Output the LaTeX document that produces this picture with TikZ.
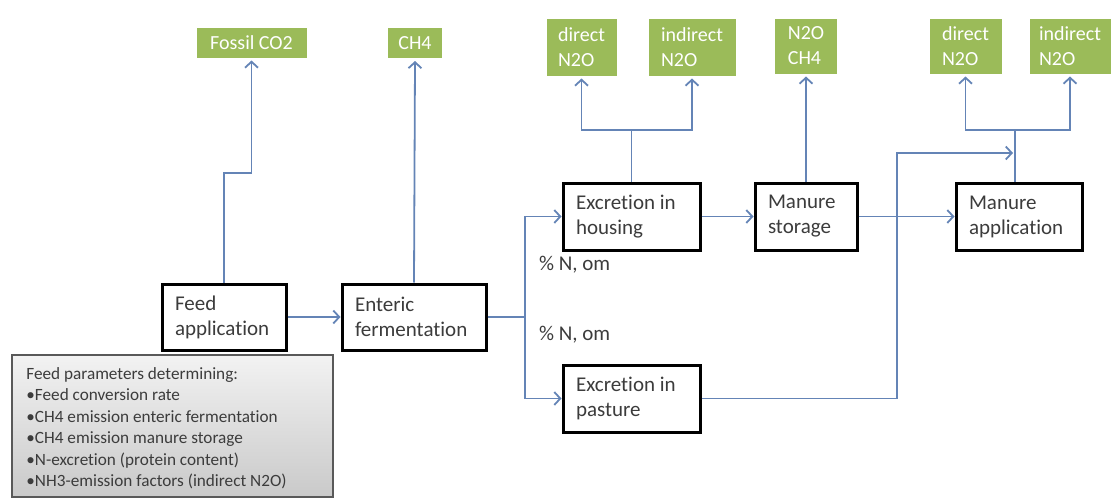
\documentclass[tikz,border=0pt]{standalone}
\usepackage{fontspec}
\setmainfont{Carlito}[Ligatures={NoCommon}]
\usepackage{tikz}
\usetikzlibrary{arrows.meta, positioning, calc}
\usepackage{xcolor}
\definecolor{flowline}{RGB}{100,132,182}
\definecolor{emis}{RGB}{155,187,89}
\definecolor{boxtext}{RGB}{60,60,60}

\begin{document}
\begin{tikzpicture}[
    x=0.5pt, y=-0.5pt,
    proc/.style={draw=black, line width=1.5pt, fill=white, align=flush left, inner xsep=6.5pt,
                 minimum height=33.5pt, font=\fontsize{10.5}{12.5}\selectfont, text=boxtext},
    emission/.style={fill=emis, draw=white, line width=1.5pt, align=left, inner sep=2pt,
                     font=\fontsize{10}{12.5}\selectfont, text=white},
    note/.style={font=\fontsize{10.5}{12.5}\selectfont, text=boxtext},
    link/.style={draw=flowline, line width=0.9pt},
    arr/.style={link, -{Straight Barb[length=3pt, width=6.5pt]}}
]
\useasboundingbox (0,0) rectangle (1114,498);

% process boxes
\node[proc, text width=49pt, minimum height=33pt] (feed) at (224,317) {Feed\\application};
\node[proc, text width=59pt, minimum height=33pt] (enteric) at (414,317) {Enteric\\fermentation};
\node[proc, text width=55.5pt] (exhouse) at (631.5,216.5) {Excretion in\\housing};
\node[proc, text width=55.5pt] (expast) at (631.5,398.5) {Excretion in\\pasture};
\node[proc, text width=38pt] (manstor) at (806,216.5) {Manure\\storage};
\node[proc, text width=50pt] (manapp) at (1019,216.5) {Manure\\application};

% emissions
\node[emission, minimum width=56.5pt, minimum height=16.5pt] (fossil) at (251.5,42.5) {Fossil CO2};
\node[emission, minimum width=28.5pt, minimum height=16.5pt] (ch4) at (415,43) {CH4};
\node[emission, minimum width=36.5pt, minimum height=30pt] (dir1) at (581.5,47) {direct\\N2O};
\node[emission, minimum width=45pt, minimum height=30pt] (ind1) at (692,47) {indirect\\N2O};
\node[emission, minimum width=32.5pt, minimum height=29pt] (stor) at (806,46) {N2O\\CH4};
\node[emission, minimum width=37.5pt, minimum height=29pt] (dir2) at (965.5,46) {direct\\N2O};
\node[emission, minimum width=42pt, minimum height=29pt] (ind2) at (1070,46) {indirect\\N2O};

% feed parameters
\node[draw=black!65, line width=0.8pt, top color=gray!10, bottom color=gray!42,
      minimum width=160.5pt, minimum height=71pt, inner sep=0pt] (params) at (172.5,426) {};
\node[anchor=north west, align=left, inner sep=0pt, text=boxtext,
      font=\fontsize{8.6}{10.75}\selectfont] (plist) at (26,367)
  {Feed parameters determining:\\
   •Feed conversion rate\\
   •CH4 emission enteric fermentation\\
   •CH4 emission manure storage\\
   •N-excretion (protein content)\\
   •NH3-emission factors (indirect N2O)};

% labels
\node[note, anchor=west] (nhouse) at (532,265) {\% N, om};
\node[note, anchor=west] (npast) at (532,335) {\% N, om};

% junctions
\coordinate (jf) at (251.5,173);
\coordinate (js) at (525,317);
\coordinate (jh) at (631.5,130);
\coordinate (jp) at (897,153);
\coordinate (ja) at (1015,130);
\coordinate (jm) at (1013,153);

\draw[arr] (feed.north) |- (jf) -- (fossil.south);
\draw[arr] (enteric.north) -- (ch4.south);
\draw[arr] (feed.east) -- (enteric.west);
\draw[link] (enteric.east) -- (js);
\draw[arr] (js) |- (exhouse.west);
\draw[arr] (js) |- (expast.west);
\draw[link] (exhouse.north) -- (jh);
\draw[arr] (jh) -| (dir1.south);
\draw[arr] (jh) -| (ind1.south);
\draw[arr] (exhouse.east) -- (manstor.west);
\draw[arr] (manstor.north) -- (stor.south);
\draw[arr] (manstor.east) -- (manapp.west);
\draw[arr] (expast.east) -| (jp) -- (jm);
\draw[link] (ja |- manapp.north) -- (ja);
\draw[arr] (ja) -| (dir2.south);
\draw[arr] (ja) -| (ind2.south);
\end{tikzpicture}
\end{document}
